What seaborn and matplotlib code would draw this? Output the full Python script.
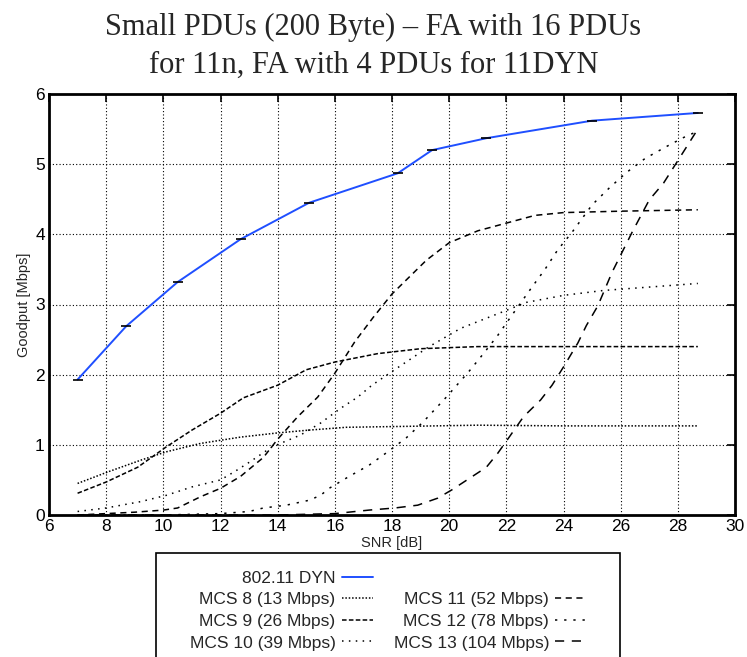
import matplotlib
matplotlib.use("Agg")
import matplotlib.pyplot as plt
import seaborn as sns
from matplotlib.lines import Line2D
from matplotlib.patches import Rectangle

# --- values ---
snr_dyn = [7.0, 8.7, 10.5, 12.7, 15.1, 18.2, 19.4, 21.3, 25.0, 28.7]
gp_dyn = [1.93, 2.69, 3.32, 3.93, 4.45, 4.87, 5.20, 5.37, 5.62, 5.73]

snr_mcs8 = [7.0, 8.1, 9.2, 10.1, 11.3, 12.7, 14.0, 15.1, 16.4, 18.0, 21.0, 24.0, 28.7]
gp_mcs8 = [0.45, 0.62, 0.78, 0.90, 1.02, 1.11, 1.17, 1.21, 1.25, 1.26, 1.28, 1.27, 1.27]

snr_mcs9 = [7.0, 8.0, 9.1, 10.1, 11.0, 12.0, 12.8, 14.0, 15.0, 16.0, 17.5, 19.0, 21.0, 28.7]
gp_mcs9 = [0.31, 0.47, 0.68, 0.97, 1.21, 1.45, 1.67, 1.85, 2.07, 2.18, 2.30, 2.37, 2.40, 2.40]

snr_mcs10 = [7.0, 8.0, 9.2, 10.1, 11.0, 12.0, 12.5, 13.0, 13.8, 14.8, 15.5, 16.2, 16.8,
             17.3, 18.2, 19.3, 20.4, 21.9, 22.7, 24.0, 25.4, 28.7]
gp_mcs10 = [0.05, 0.10, 0.19, 0.28, 0.40, 0.50, 0.62, 0.75, 0.97, 1.14, 1.31, 1.52, 1.68,
            1.85, 2.10, 2.40, 2.66, 2.90, 3.03, 3.13, 3.20, 3.30]

snr_mcs11 = [7.0, 8.0, 9.0, 10.0, 10.5, 11.3, 12.0, 12.7, 13.5, 14.0, 14.7, 15.4, 16.0,
             16.7, 17.35, 18.0, 18.6, 19.2, 20.0, 21.0, 22.0, 23.0, 24.0, 26.0, 28.7]
gp_mcs11 = [0.0, 0.02, 0.04, 0.07, 0.10, 0.26, 0.38, 0.55, 0.82, 1.08, 1.40, 1.68, 2.02,
            2.47, 2.82, 3.15, 3.39, 3.63, 3.88, 4.05, 4.16, 4.27, 4.31, 4.33, 4.35]

snr_mcs12 = [7.0, 10.0, 12.0, 13.0, 13.5, 14.3, 15.1, 15.5, 15.8, 16.5, 17.2, 17.85, 18.5,
             19.1, 19.9, 20.7, 21.2, 21.7, 22.2, 22.9, 23.35, 23.8, 24.3, 25.0, 25.6,
             26.2, 26.85, 27.55, 28.25, 28.7]
gp_mcs12 = [0.0, 0.0, 0.02, 0.05, 0.10, 0.14, 0.21, 0.28, 0.38, 0.55, 0.71, 0.90, 1.10,
            1.33, 1.68, 2.05, 2.30, 2.56, 2.85, 3.25, 3.50, 3.78, 4.03, 4.42, 4.66,
            4.88, 5.08, 5.24, 5.39, 5.47]

snr_mcs13 = [7.0, 14.0, 16.0, 17.2, 18.1, 18.9, 19.6, 20.1, 20.7, 21.3, 21.7, 22.1, 22.6,
             23.2, 23.6, 24.0, 24.5, 24.8, 25.2, 25.7, 26.4, 27.0, 27.5, 28.0, 28.7]
gp_mcs13 = [0.0, 0.0, 0.02, 0.07, 0.10, 0.14, 0.24, 0.36, 0.52, 0.68, 0.88, 1.11, 1.40,
            1.64, 1.85, 2.11, 2.45, 2.70, 2.98, 3.46, 4.03, 4.49, 4.73, 5.05, 5.50]

labels = ["802.11 DYN", "MCS 8 (13 Mbps)", "MCS 9 (26 Mbps)", "MCS 10 (39 Mbps)",
          "MCS 11 (52 Mbps)", "MCS 12 (78 Mbps)", "MCS 13 (104 Mbps)"]

x_ticks = [6, 8, 10, 12, 14, 16, 18, 20, 22, 24, 26, 28, 30]
y_ticks = [0, 1, 2, 3, 4, 5, 6]

title = "Small PDUs (200 Byte) \u2013 FA with 16 PDUs\nfor 11n, FA with 4 PDUs for 11DYN"

# --- style ---
sns.set_style("white")
plt.rcParams["font.family"] = ["Liberation Sans", "DejaVu Sans"]

fig = plt.figure(figsize=(7.47, 6.57), dpi=100)
ax = fig.add_axes([49 / 747, 1 - 515 / 657, 686 / 747, 421 / 657])

blue = "#1f4fff"
mcs_series = [
    (snr_mcs8, gp_mcs8, (0, (1, 1.2))),
    (snr_mcs9, gp_mcs9, (0, (3, 1.5))),
    (snr_mcs10, gp_mcs10, (0, (1, 3.5))),
    (snr_mcs11, gp_mcs11, (0, (4, 3))),
    (snr_mcs12, gp_mcs12, (0, (1.5, 4.5))),
    (snr_mcs13, gp_mcs13, (0, (6, 5))),
]

handles = []
sns.lineplot(x=snr_dyn, y=gp_dyn, ax=ax, color=blue, linewidth=1.4, zorder=5)
sns.scatterplot(x=snr_dyn, y=gp_dyn, ax=ax, marker="_", s=45, color="black",
                linewidth=1.2, zorder=6)
handles.append(Line2D([], [], color=blue, linewidth=1.4))

for xs, ys, ls in mcs_series:
    sns.lineplot(x=xs, y=ys, ax=ax, color="black", linewidth=1.1, linestyle=ls, zorder=4)
    handles.append(Line2D([], [], color="black", linewidth=1.1, linestyle=ls))

ax.set_xlim(6, 30)
ax.set_ylim(0, 6)
ax.set_xticks(x_ticks)
ax.set_yticks(y_ticks)
ax.grid(True, color="black", linestyle=(0, (1, 2)), linewidth=0.8)
ax.tick_params(direction="in", length=6, width=1.2, top=True, right=True,
               labelsize=12.5, pad=3, colors="black")
for sp in ax.spines.values():
    sp.set_visible(True)
    sp.set_color("black")
    sp.set_linewidth(2)

ax.set_xlabel("SNR [dB]", fontsize=10.5, labelpad=1)
ax.set_ylabel("Goodput [Mbps]", fontsize=10.5, labelpad=3)

fig.text(0.5, 1 - 13 / 657, title, ha="center", va="top",
         fontsize=22, family="Liberation Serif", linespacing=1.4)

# legend: gnuplot style, text right aligned with sample after it
blank = Line2D([], [], color="none")
leg_handles = handles[:4] + [blank] + handles[4:]
leg_labels = labels[:4] + [""] + labels[4:]
leg = fig.legend(leg_handles, leg_labels, ncol=2, markerfirst=False, frameon=False,
                 loc="upper center", bbox_to_anchor=(388 / 747, 1 - 562 / 657),
                 fontsize=12.5, handlelength=1.8, handletextpad=0.35,
                 columnspacing=1.2, labelspacing=0.37, borderpad=0)
fig.add_artist(Rectangle((156 / 747, -0.05), 464 / 747, 0.05 + (657 - 553) / 657,
                         transform=fig.transFigure, fill=False, edgecolor="black",
                         linewidth=1.2))

fig.savefig("out.png", dpi=100)
